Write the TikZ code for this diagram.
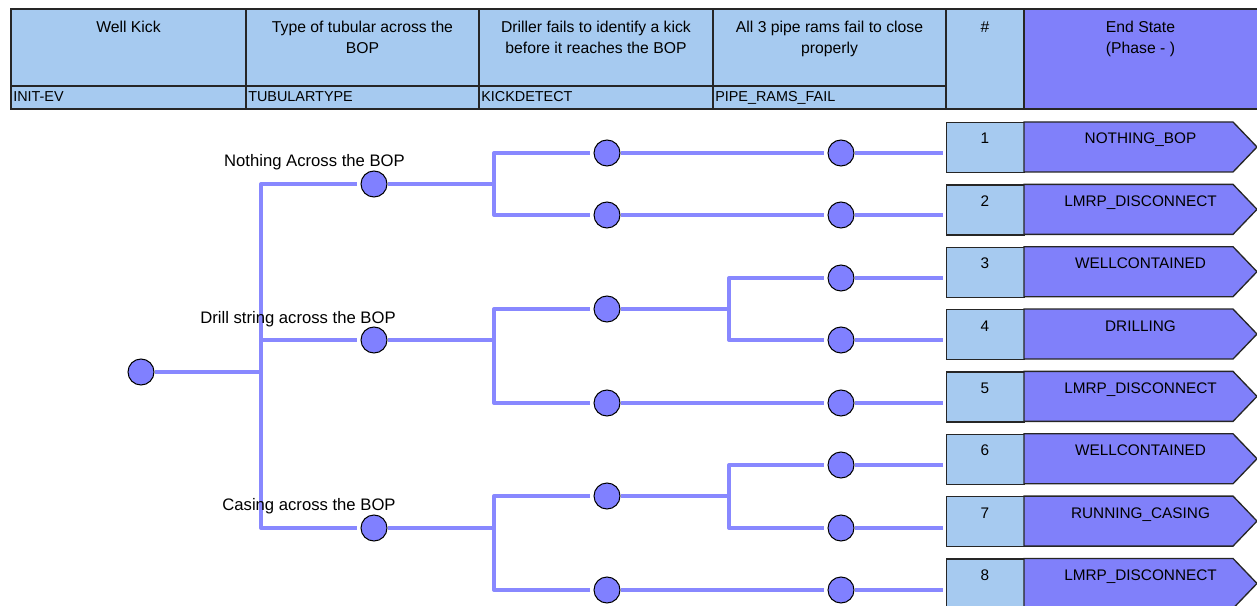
\documentclass[tikz,border=0pt]{standalone}
\usepackage{fontspec}
\setmainfont{Liberation Sans}
\definecolor{hdrblue}{RGB}{166,202,240}
\definecolor{evfill}{RGB}{128,128,255}
\definecolor{brcol}{RGB}{136,136,255}
\definecolor{endfill}{RGB}{128,128,250}
\pgfdeclarelayer{lines}
\pgfsetlayers{lines,main}
\begin{document}
\begin{tikzpicture}[x=0.75pt,y=-0.75pt,
  hdrcell/.style={draw=black!85, line width=1pt, fill=hdrblue},
  hdrtext/.style={font=\fontsize{11.8}{15.75}\selectfont, align=center, inner sep=0, anchor=north},
  codetext/.style={font=\fontsize{10.8}{13}\selectfont, inner sep=0, anchor=base west},
  evt/.style={circle, draw=black, line width=0.75pt, fill=evfill, minimum size=19.5pt, inner sep=0},
  br/.style={draw=brcol, line width=3pt, line join=round},
  into/.style={shorten >=2.5pt},
  brlabel/.style={font=\fontsize{12.5}{15}\selectfont, inner sep=0, anchor=base},
  numbox/.style={draw=black!85, line width=1pt, fill=hdrblue, minimum width=58.5pt, minimum height=37.5pt, inner sep=0, anchor=north west},
  endshape/.style={draw=black!85, line width=1pt, fill=endfill},
  rowtext/.style={font=\fontsize{11.5}{14}\selectfont, inner sep=0, anchor=base}]
\useasboundingbox (0,0) rectangle (1257,606);

% ---- header table ----
\foreach \xa/\xb in {11/246, 246/479, 479/713, 713/946}{
  \path[hdrcell] (\xa,9) rectangle (\xb,86);
  \path[hdrcell] (\xa,86) rectangle (\xb,109);
}
\path[hdrcell] (946,9) rectangle (1024,109);
\path[hdrcell, fill=endfill] (1024,9) rectangle (1262,109);

\node[hdrtext] (t1) at (128.5,21) {Well Kick};
\node[hdrtext] (t2) at (362.5,21) {Type of tubular across the\\BOP};
\node[hdrtext] (t3) at (596,21) {Driller fails to identify a kick\\before it reaches the BOP};
\node[hdrtext] (t4) at (829.5,21) {All 3 pipe rams fail to close\\properly};
\node[hdrtext] (t5) at (985,21) {\#};
\node[hdrtext] (t6) at (1140.5,21) {End State\\(Phase - )};

\node[codetext] (k1) at (13,102) {INIT-EV};
\node[codetext] (k2) at (248,102) {TUBULARTYPE};
\node[codetext] (k3) at (481,102) {KICKDETECT};
\node[codetext] (k4) at (715,102) {PIPE\_RAMS\_FAIL};

% ---- end states ----
\foreach \i/\lab in {1/NOTHING\_BOP, 2/LMRP\_DISCONNECT, 3/WELLCONTAINED, 4/DRILLING,
                     5/LMRP\_DISCONNECT, 6/WELLCONTAINED, 7/RUNNING\_CASING, 8/LMRP\_DISCONNECT}{
  \pgfmathsetmacro\t{122+62.35*(\i-1)}
  \node[numbox] (n\i) at (946,\t) {};
  \draw[endshape] (1024,\t) -- (1233,\t) -- (1257,\t+25) -- (1233,\t+50) -- (1024,\t+50) -- cycle;
  \node[rowtext] (nt\i) at (985,\t+22) {\i};
  \node[rowtext] (st\i) at (1140.5,\t+22) {\lab};
}

% ---- event tree nodes ----
\node[evt] (r) at (141,372) {};
\node[evt] (a1) at (374,184) {};
\node[evt] (a2) at (374,340) {};
\node[evt] (a3) at (374,528) {};
\node[evt] (b1) at (607,153) {};
\node[evt] (b2) at (607,215) {};
\node[evt] (b3) at (607,309) {};
\node[evt] (b4) at (607,403) {};
\node[evt] (b5) at (607,496) {};
\node[evt] (b6) at (607,590) {};
\foreach \i/\y in {1/153, 2/215, 3/278, 4/340, 5/403, 6/465, 7/528, 8/590}
  \node[evt] (c\i) at (841,\y) {};

% branch points
\coordinate (j0) at (261,372);
\coordinate (j1) at (494,184);
\coordinate (j2) at (494,340);
\coordinate (j3) at (494,528);
\coordinate (j4) at (729,309);
\coordinate (j5) at (729,496);

% ---- connectors, kept beneath the circles ----
\begin{pgfonlayer}{lines}
\draw[br] (r) -- (j0);
\foreach \n in {a1,a2,a3} \draw[br, into] (j0) |- (\n);
\draw[br] (a1) -- (j1);
\draw[br] (a2) -- (j2);
\draw[br] (a3) -- (j3);
\draw[br, into] (j1) |- (b1);
\draw[br, into] (j1) |- (b2);
\draw[br, into] (j2) |- (b3);
\draw[br, into] (j2) |- (b4);
\draw[br, into] (j3) |- (b5);
\draw[br, into] (j3) |- (b6);
\draw[br, into] (b1) -- (c1);
\draw[br, into] (b2) -- (c2);
\draw[br] (b3) -- (j4);
\draw[br, into] (j4) |- (c3);
\draw[br, into] (j4) |- (c4);
\draw[br, into] (b4) -- (c5);
\draw[br] (b5) -- (j5);
\draw[br, into] (j5) |- (c6);
\draw[br, into] (j5) |- (c7);
\draw[br, into] (b6) -- (c8);
\foreach \i in {1,...,8} \draw[br, shorten >=2.25pt] (c\i) -- (c\i -| n\i.west);
\end{pgfonlayer}

% ---- branch labels ----
\node[brlabel] (l1) at (314.5,167) {Nothing Across the BOP};
\node[brlabel] (l2) at (298,323) {Drill string across the BOP};
\node[brlabel] (l3) at (309,510) {Casing across the BOP};
\end{tikzpicture}
\end{document}
